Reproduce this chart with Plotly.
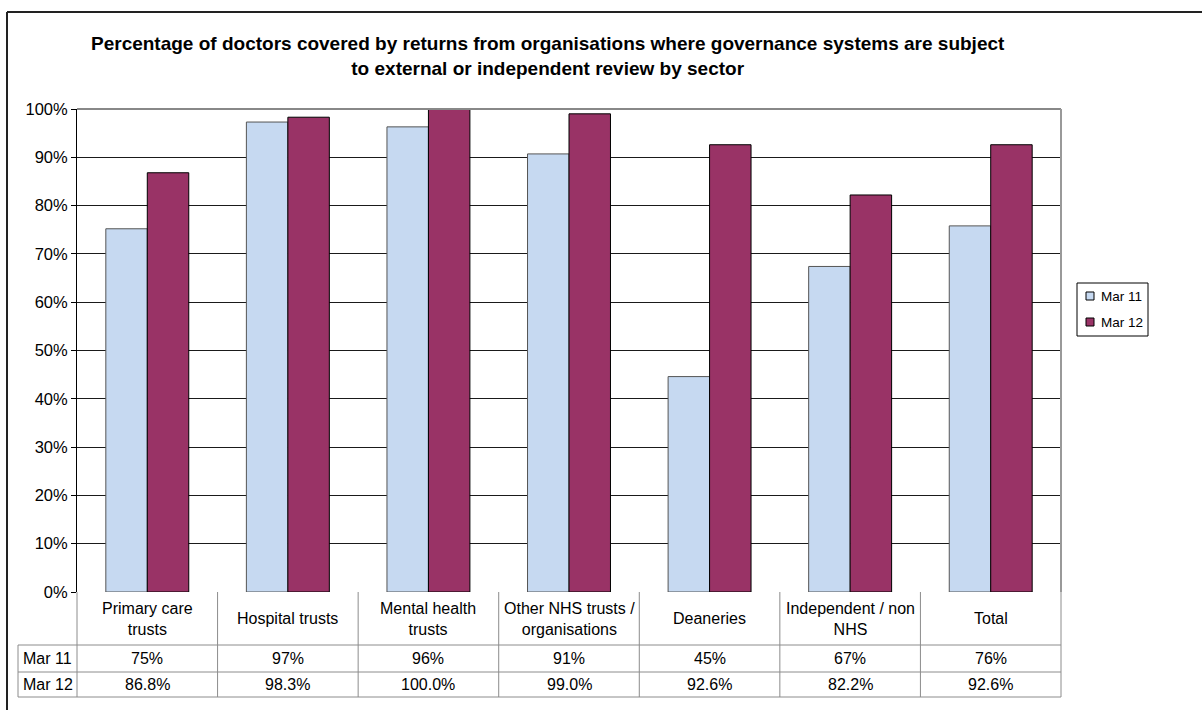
import plotly.graph_objects as go

# Sector categories and the two return periods
categories = ["Primary care trusts", "Hospital trusts", "Mental health trusts",
              "Other NHS trusts / organisations", "Deaneries",
              "Independent / non NHS", "Total"]
header_labels = ["Primary care<br>trusts", "Hospital trusts", "Mental health<br>trusts",
                 "Other NHS trusts /<br>organisations", "Deaneries",
                 "Independent / non<br>NHS", "Total"]
series_names = ["Mar 11", "Mar 12"]
mar11 = [75.2, 97.3, 96.3, 90.7, 44.6, 67.4, 75.8]
mar12 = [86.8, 98.3, 100.0, 99.0, 92.6, 82.2, 92.6]
y_ticks = list(range(0, 101, 10))

FONT = "Liberation Sans, Arial, sans-serif"
W, H = 1202, 710
L, R, T, B = 77, 141, 109, 118
PW, PH = W - L - R, H - T - B

colors = ["#C6D9F1", "#993366"]
outlines = ["#555555", "#000000"]


def px_x(px):
    return (px - L) / PW


def px_y(py):
    return (H - B - py) / PH


fig = go.Figure()
for name, vals, col, ol in zip(series_names, [mar11, mar12], colors, outlines):
    fig.add_trace(go.Bar(
        name=name, x=categories, y=vals, showlegend=False,
        marker=dict(color=col, line=dict(color=ol, width=1)),
    ))

shapes = []
annotations = []


def pline(x0, y0, x1, y1, color, width):
    shapes.append(dict(type="line", xref="paper", yref="paper",
                       x0=px_x(x0), x1=px_x(x1), y0=px_y(y0), y1=px_y(y1),
                       line=dict(color=color, width=width)))


def ptext(x, y, text, font, xanchor="center", align="center"):
    annotations.append(dict(xref="paper", yref="paper", x=px_x(x), y=px_y(y),
                            text=text, showarrow=False, xanchor=xanchor,
                            yanchor="middle", align=align, font=font))


# Outer chart frame (left and top edges visible)
pline(7, 12, 1215, 12, "#222222", 2)
pline(7, 12, 7, 720, "#222222", 2)

# Plot area border: top and right in grey
pline(L, T, L + PW, T, "#888888", 2)
pline(L + PW, T, L + PW, T + PH, "#999999", 2)

# Data table beneath the axis
grid_col = "#8c8c8c"
row_label_left = 18
header_bottom, row1_bottom, row2_bottom = 645, 672, 697
n = len(categories)
col_w = PW / n
for i in range(n + 1):
    xp = L + i * col_w
    pline(xp, H - B, xp, row2_bottom, grid_col, 1)
pline(row_label_left, header_bottom, row_label_left, row2_bottom, grid_col, 1)
for yp in (header_bottom, row1_bottom, row2_bottom):
    pline(row_label_left, yp, L + PW, yp, grid_col, 1)

cell_font = dict(family=FONT, size=16, color="#000000")
for i, lab in enumerate(header_labels):
    cx = L + (i + 0.5) * col_w
    ptext(cx, (H - B + header_bottom) / 2, lab, cell_font)
    ptext(cx, (header_bottom + row1_bottom) / 2, f"{mar11[i]:.0f}%", cell_font)
    ptext(cx, (row1_bottom + row2_bottom) / 2, f"{mar12[i]:.1f}%", cell_font)
for name, (top, bot) in zip(series_names, [(header_bottom, row1_bottom),
                                            (row1_bottom, row2_bottom)]):
    ptext(row_label_left + 3, (top + bot) / 2, name, cell_font, xanchor="left")

# Legend box
lg_x0, lg_y0, lg_x1, lg_y1 = 1077, 283, 1148, 336
shapes.append(dict(type="rect", xref="paper", yref="paper",
                   x0=px_x(lg_x0), x1=px_x(lg_x1), y0=px_y(lg_y0), y1=px_y(lg_y1),
                   line=dict(color="#000000", width=1), fillcolor="white"))
for k, (name, col, ol) in enumerate(zip(series_names, colors, outlines)):
    yc = 296 + k * 26
    shapes.append(dict(type="rect", xref="paper", yref="paper",
                       x0=px_x(1086), x1=px_x(1094), y0=px_y(yc - 4), y1=px_y(yc + 4),
                       line=dict(color="#000000", width=1), fillcolor=col))
    ptext(1099, yc, name, dict(family=FONT, size=13.5, color="#000000"), xanchor="left")

# Title
ptext(548, 56,
      "<b>Percentage of doctors covered by returns from organisations where governance systems are subject<br>to external or independent review by sector</b>",
      dict(family=FONT, size=19, color="#000000"))

fig.update_layout(
    width=W, height=H,
    margin=dict(l=L, r=R, t=T, b=B, pad=0),
    paper_bgcolor="white", plot_bgcolor="white",
    barmode="group", bargap=0.41, bargroupgap=0,
    font=dict(family=FONT, size=16, color="#000000"),
    shapes=shapes, annotations=annotations, showlegend=False,
    xaxis=dict(showticklabels=False, showline=False, ticks="", showgrid=False,
               zeroline=False),
    yaxis=dict(range=[0, 100], tickvals=y_ticks,
               ticktext=[f"{v}%" for v in y_ticks], showgrid=True,
               gridcolor="#1a1a1a", gridwidth=1, zeroline=False,
               showline=True, linecolor="#000000", linewidth=1,
               ticks="outside", ticklen=5, tickcolor="#000000",
               tickfont=dict(family=FONT, size=16.5)),
)

fig.write_html("out.html")
